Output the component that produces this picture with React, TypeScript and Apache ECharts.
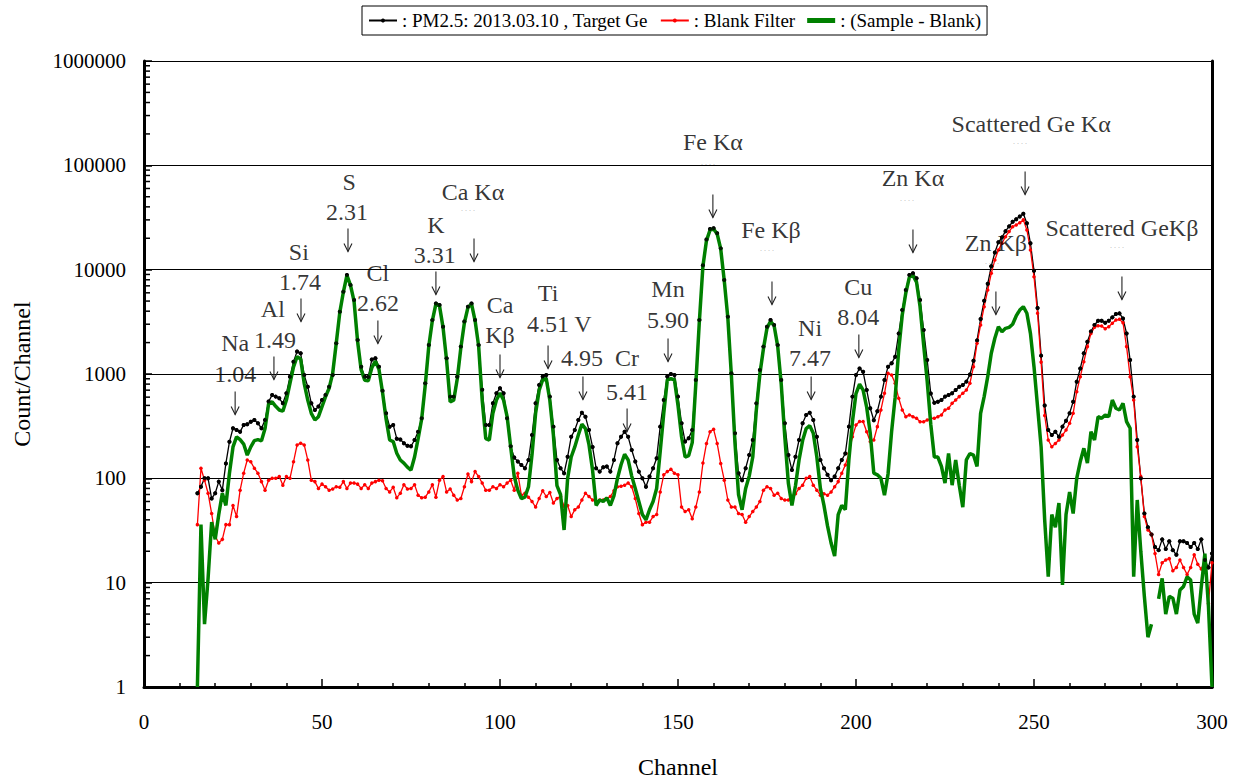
import React, { useEffect, useRef } from "react";
import * as echarts from "echarts";

const startChannel = 15;

// PM2.5 sample (black)
const sampleCounts = [
  72, 83, 100, 100, 64, 72, 93, 77, 139, 224,
  302, 291, 280, 325, 330, 349, 362, 337, 302, 362,
  544, 630, 607, 585, 524, 653, 940, 1310, 1640, 1580,
  980, 755, 524, 452, 487, 563, 630, 755, 980, 1970,
  3950, 6150, 8890, 7130, 5120, 2120, 1175, 943, 935, 1380,
  1413, 1175, 690, 420, 312, 325, 240, 236, 217, 205,
  203, 233, 280, 376, 815, 1900, 3300, 4750, 4580, 2840,
  1413, 607, 607, 943, 1830, 3180, 4420, 4750, 3300, 1900,
  705, 325, 325, 524, 655, 730, 655, 376, 203, 158,
  145, 134, 125, 150, 260, 524, 785, 945, 980, 607,
  313, 150, 125, 112, 161, 250, 290, 362, 426, 390,
  290, 200, 125, 116, 128, 130, 116, 150, 217, 250,
  280, 250, 187, 145, 116, 100, 83, 104, 125, 156,
  313, 563, 945, 1000, 980, 607, 337, 225, 242, 290,
  876, 3290, 11000, 19500, 24500, 25000, 22300, 16000, 7960, 3540,
  1015, 270, 112, 96, 125, 167, 233, 523, 1090, 1830,
  2840, 3290, 2950, 1900, 876, 337, 167, 120, 161, 233,
  337, 405, 426, 362, 250, 150, 125, 108, 96, 104,
  125, 150, 173, 313, 607, 980, 1130, 1050, 703, 470,
  360, 440, 607, 876, 1175, 1265, 1466, 2450, 4100, 6380,
  8890, 9220, 8260, 5120, 2640, 1360, 650, 530, 543, 563,
  607, 630, 653, 703, 756, 785, 845, 987, 1342, 2100,
  3370, 5030, 7320, 10800, 14600, 18300, 20400, 23400, 26000, 28800,
  30400, 32300, 34400, 27800, 17900, 9750, 4300, 1500, 500, 290,
  260, 280, 250, 313, 357, 420, 543, 844, 1130, 1580,
  2040, 2550, 2950, 3240, 3240, 3100, 3240, 3490, 3760, 3810,
  3410, 2450, 1360, 607, 233, 100, 46, 34, 29, 22,
  20.5, 26, 21, 25, 20.5, 18.5, 25, 25, 24, 22,
  24, 21, 26, 16.5, 14, 19,
];

// Blank filter (red)
const blankCounts = [
  36, 125, 96, 72, 46, 28, 24, 26, 36, 36,
  55, 43, 77, 112, 150, 144, 125, 112, 93, 77,
  96, 100, 100, 104, 86, 104, 100, 144, 209, 217,
  209, 150, 96, 93, 80, 88, 83, 77, 79, 83,
  82, 93, 80, 90, 90, 88, 80, 87, 80, 90,
  93, 96, 95, 80, 74, 82, 65, 72, 87, 79,
  80, 87, 69, 65, 66, 74, 87, 66, 96, 104,
  74, 79, 69, 62, 64, 83, 110, 93, 116, 104,
  90, 77, 77, 83, 80, 87, 83, 90, 96, 77,
  112, 69, 72, 66, 60, 53, 64, 76, 67, 73,
  58, 64, 67, 54, 55, 43, 50, 53, 62, 72,
  67, 62, 60, 62, 62, 64, 67, 76, 83, 84,
  86, 90, 83, 64, 46, 36, 38, 38, 43, 45,
  74, 108, 116, 122, 112, 108, 53, 48, 50, 41,
  53, 74, 140, 216, 280, 295, 216, 139, 96, 62,
  53, 53, 46, 45, 38, 43, 48, 53, 60, 77,
  83, 80, 69, 72, 64, 62, 62, 67, 71, 80,
  86, 100, 104, 86, 77, 69, 71, 69, 74, 83,
  93, 112, 134, 173, 250, 324, 350, 350, 280, 225,
  233, 313, 452, 653, 1015, 978, 814, 585, 452, 390,
  405, 390, 376, 349, 349, 362, 376, 376, 390, 405,
  452, 469, 524, 563, 607, 653, 703, 814, 1175, 1970,
  2950, 4420, 6380, 9220, 12400, 15450, 17900, 20700, 23200, 25800,
  26800, 28200, 30000, 24000, 15450, 8570, 3820, 1300, 400, 233,
  201, 216, 233, 260, 290, 337, 420, 676, 943, 1310,
  1830, 2450, 2800, 2900, 2880, 2720, 2840, 3060, 3290, 3340,
  3100, 1830, 943, 563, 201, 104, 43, 32, 29, 19,
  12, 15.5, 16.5, 17, 13, 14, 16.5, 14, 12, 14,
  18.5, 15, 13.5, 16.5, 6.3, 15.5,
];

// Sample - Blank (green)
const netCounts = [
  1, 36, 4, 11, 38, 26, 45, 72, 55, 112,
  200, 250, 235, 213, 167, 200, 230, 235, 229, 300,
  520, 540, 490, 452, 440, 563, 815, 1170, 1465, 1390,
  815, 563, 420, 362, 390, 487, 607, 730, 1015, 1970,
  3900, 6100, 8800, 7100, 5000, 2050, 1100, 870, 862, 1150,
  1330, 1110, 670, 370, 233, 225, 174, 150, 140, 128,
  120, 160, 240, 370, 780, 1850, 3250, 4700, 4500, 2800,
  1350, 540, 560, 900, 1780, 3100, 4350, 4700, 3250, 1850,
  560, 240, 233, 420, 563, 655, 563, 390, 200, 104,
  77, 64, 66, 83, 170, 420, 700, 880, 900, 560,
  260, 85, 70, 32, 100, 160, 200, 260, 330, 300,
  210, 120, 55, 62, 60, 65, 55, 68, 100, 135,
  170, 150, 105, 80, 60, 45, 40, 50, 60, 80,
  180, 420, 880, 900, 880, 500, 250, 160, 165, 220,
  800, 3200, 10800, 19000, 24000, 24500, 22000, 15800, 7800, 3450,
  960, 220, 70, 50, 80, 105, 160, 450, 1000, 1750,
  2750, 3200, 2900, 1850, 800, 250, 90, 55, 85, 150,
  230, 300, 320, 270, 160, 80, 55, 35, 24, 18,
  45, 55, 50, 150, 350, 650, 800, 700, 480, 270,
  112, 108, 100, 69, 110, 280, 600, 1700, 3700, 6000,
  8500, 8800, 7600, 4400, 1900, 850, 330, 160, 160, 130,
  90, 173, 86, 150, 86, 53, 150, 173, 167, 130,
  420, 607, 943, 1580, 2200, 2840, 2540, 2740, 2800, 3000,
  3600, 4100, 4420, 3820, 2450, 1175, 486, 200, 40, 11.4,
  45, 34, 58, 9.5, 45, 74, 46, 100, 145, 194,
  140, 280, 233, 390, 376, 405, 390, 563, 470, 452,
  524, 350, 302, 11.4, 62, 20, 7.4, 3, 4, null,
  7, 11, 5, 7.4, 7.1, 5, 8.5, 9.2, 11.4, 10.6,
  5, 4.1, 9.2, 19, 6, 1,
];

const seriesNames = ["PM2.5: 2013.03.10 , Target Ge", "Blank Filter", "(Sample - Blank)"];

// Peak annotations (text, channel, count position)
const peakTexts = [
  "Na", "1.04", "Al", "1.49", "Si", "1.74", "S", "2.31", "Cl", "2.62",
  "K", "3.31", "Ca Kα", "Ca", "Kβ", "Ti", "4.51", "V", "4.95", "Cr",
  "5.41", "Mn", "5.90", "Fe Kα", "Fe Kβ", "Ni", "7.47", "Cu", "8.04", "Zn Kα",
  "Zn Kβ", "Scattered Ge Kα", "Scattered GeKβ",
];
const peakTextChannels = [
  25.6, 25.6, 36.2, 36.8, 43.5, 43.8, 57.6, 57.0, 65.7, 65.7,
  82.0, 81.7, 92.4, 100, 100, 113.5, 113.5, 123.3, 123.0, 135.7,
  135.7, 147.2, 147.2, 159.8, 176.1, 187.1, 187.1, 200.6, 200.6, 216.0,
  239.3, 249.2, 274.7,
];
const peakTextCounts = [
  1983, 1000, 4200, 2120, 14800, 7620, 69200, 35700, 9290, 4800,
  26800, 13800, 55600, 4590, 2370, 5970, 3015, 3015, 1424, 1424,
  673, 6530, 3295, 167500, 24000, 2760, 1424, 6820, 3520, 75700,
  18000, 249000, 25100,
];

const arrowChannels = [
  25.6, 36.5, 44.1, 57.3, 65.7, 82.0, 92.7, 100, 113.5, 123.3,
  135.7, 147.2, 159.8, 176.4, 187.4, 200.8, 216.0, 239.3, 247.5, 274.7,
];
const arrowCounts = [
  527, 1142, 4100, 19250, 2530, 7450, 15400, 1194, 1456, 735,
  362, 1700, 40800, 5970, 735, 1855, 18800, 4800, 67700, 6670,
];

const dotChannels = [91, 158.4, 175, 214.3, 238.2, 246.1, 273.3];
const dotCounts = [38200, 105300, 15800, 48600, 11900, 171000, 16900];

const minorMultipliers = [2, 3, 4, 5, 6, 7, 8, 9];
const decades = [1, 10, 100, 1000, 10000, 100000];

const FONT = '"Liberation Serif", "Times New Roman", serif';

function toPairs(values: (number | null)[]) {
  return values.map((v, i) => [startChannel + i, v]);
}

export default function App() {
  const ref = useRef<HTMLDivElement>(null);

  useEffect(() => {
    document.body.style.margin = "0";
    if (!ref.current) return;
    const chart = echarts.init(ref.current, undefined, { renderer: "svg" });

    const samplePairs = toPairs(sampleCounts);
    const minorTickData: number[][] = [];
    decades.forEach((d) => minorMultipliers.forEach((m) => minorTickData.push([0, d * m])));

    const textItem = (size: number, color = "#000") => ({
      show: true,
      position: "inside",
      formatter: "{b}",
      fontFamily: FONT,
      fontSize: size,
      color,
    });

    chart.setOption({
      animation: false,
      backgroundColor: "#fff",
      grid: { left: 144, right: 28, top: 61, bottom: 93, outerBoundsMode: "none" },
      legend: {
        top: 6,
        left: 362,
        data: [
          { name: seriesNames[0] },
          { name: seriesNames[1] },
          { name: seriesNames[2], icon: "rect" },
        ],
        formatter: (n: string) => ": " + n,
        borderColor: "#000",
        borderWidth: 1,
        padding: [5, 6, 5, 6],
        itemGap: 12,
        itemWidth: 28,
        itemHeight: 5,
        textStyle: { fontFamily: FONT, fontSize: 19, color: "#000" },
      },
      xAxis: {
        type: "value",
        min: 0,
        max: 300,
        interval: 50,
        axisLine: { lineStyle: { color: "#000", width: 3 } },
        axisTick: { inside: true, length: 8, lineStyle: { color: "#000", width: 1.5 } },
        minorTick: { show: true, splitNumber: 5, length: 4, lineStyle: { color: "#000", width: 1.5 } },
        splitLine: { show: false },
        axisLabel: { fontFamily: FONT, fontSize: 21, color: "#000", margin: 24 },
        name: "Channel",
        nameLocation: "middle",
        nameGap: 68,
        nameTextStyle: { fontFamily: FONT, fontSize: 24, color: "#000" },
      },
      yAxis: [
        {
          type: "log",
          logBase: 10,
          min: 1,
          max: 1000000,
          axisLine: { show: true, lineStyle: { color: "#000", width: 3 } },
          axisTick: { show: true, inside: true, length: 8, lineStyle: { color: "#000", width: 1.5 } },
          axisLabel: {
            formatter: (v: number) => String(Math.round(v)),
            fontFamily: FONT,
            fontSize: 21,
            color: "#000",
            margin: 18,
          },
          splitLine: { show: true, lineStyle: { color: "#000", width: 1 } },
          name: "Count/Channel",
          nameLocation: "middle",
          nameGap: 110,
          nameTextStyle: { fontFamily: FONT, fontSize: 24, color: "#000" },
        },
        {
          type: "log",
          logBase: 10,
          min: 1,
          max: 1000000,
          position: "right",
          axisLine: { show: true, lineStyle: { color: "#000", width: 3 } },
          axisTick: { show: false },
          axisLabel: { show: false },
          splitLine: { show: false },
        },
      ],
      series: [
        {
          name: seriesNames[0],
          type: "line",
          data: samplePairs,
          symbol: "circle",
          symbolSize: 4,
          showSymbol: true,
          showAllSymbol: true,
          itemStyle: { color: "#000" },
          lineStyle: { color: "#000", width: 1.3 },
          z: 2,
        },
        {
          name: seriesNames[1],
          type: "line",
          data: toPairs(blankCounts),
          symbol: "circle",
          symbolSize: 3.5,
          showSymbol: true,
          showAllSymbol: true,
          itemStyle: { color: "#ff0000" },
          lineStyle: { color: "#ff0000", width: 1.3 },
          z: 2,
        },
        {
          name: seriesNames[2],
          type: "line",
          data: toPairs(netCounts),
          symbol: "none",
          connectNulls: false,
          itemStyle: { color: "#008000" },
          lineStyle: { color: "#008000", width: 3.5 },
          z: 3,
        },
        {
          name: "sampleDots",
          type: "scatter",
          data: samplePairs,
          symbol: "circle",
          symbolSize: 4,
          itemStyle: { color: "#000" },
          silent: true,
          z: 4,
        },
        {
          name: "yMinorTicks",
          type: "custom",
          data: minorTickData,
          silent: true,
          clip: false,
          z: 5,
          renderItem: (_params: any, api: any) => {
            const p = api.coord([api.value(0), api.value(1)]);
            return {
              type: "line",
              shape: { x1: p[0], y1: p[1], x2: p[0] + 6, y2: p[1] },
              style: { stroke: "#000", lineWidth: 1.5 },
            };
          },
        },
        {
          name: "arrows",
          type: "custom",
          data: arrowChannels.map((c, i) => [c, arrowCounts[i]]),
          silent: true,
          clip: false,
          z: 10,
          renderItem: (_params: any, api: any) => {
            const p = api.coord([api.value(0), api.value(1)]);
            const top = p[1] - 11.5;
            const bottom = p[1] + 11.5;
            return {
              type: "group",
              children: [
                {
                  type: "line",
                  shape: { x1: p[0], y1: top, x2: p[0], y2: bottom },
                  style: { stroke: "#222", lineWidth: 1.1 },
                },
                {
                  type: "polyline",
                  shape: { points: [[p[0] - 4, bottom - 8], [p[0], bottom], [p[0] + 4, bottom - 8]] },
                  style: { stroke: "#222", lineWidth: 1.1, fill: "none" },
                },
              ],
            };
          },
        },
        {
          name: "peakTexts",
          type: "scatter",
          data: peakTexts.map((t, i) => ({ name: t, value: [peakTextChannels[i], peakTextCounts[i]] })),
          symbolSize: 1,
          itemStyle: { color: "rgba(0,0,0,0)" },
          label: textItem(24),
          silent: true,
          clip: false,
          z: 10,
        },
        {
          name: "dots",
          type: "scatter",
          data: dotChannels.map((c, i) => ({ name: ". . . .", value: [c, dotCounts[i]] })),
          symbolSize: 1,
          itemStyle: { color: "rgba(0,0,0,0)" },
          label: textItem(8, "#999"),
          silent: true,
          clip: false,
          z: 10,
        },
      ],
    });

    return () => chart.dispose();
  }, []);

  return <div ref={ref} style={{ width: 1240, height: 780 }} />;
}
